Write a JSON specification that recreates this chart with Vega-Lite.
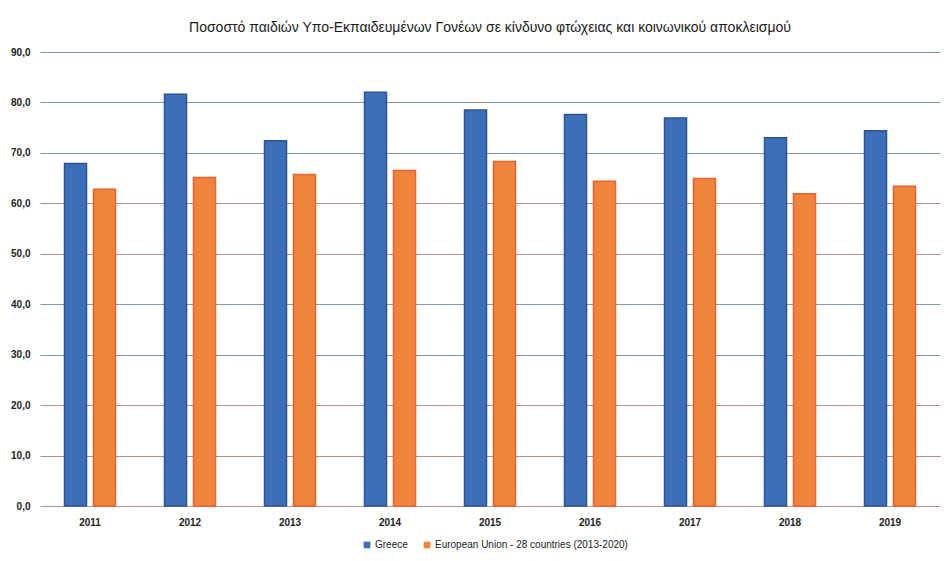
{
  "$schema": "https://vega.github.io/schema/vega-lite/v6.json",
  "width": 900,
  "height": 454,
  "autosize": "none",
  "padding": {"left": 40, "top": 52, "right": 7, "bottom": 55},
  "background": "white",
  "title": {
    "text": "Ποσοστό παιδιών Υπο-Εκπαιδευμένων Γονέων σε κίνδυνο φτώχειας και κοινωνικού αποκλεισμού",
    "font": "Liberation Sans",
    "fontSize": 14,
    "fontWeight": "normal",
    "color": "#1a1a1a",
    "offset": 12,
    "anchor": "middle"
  },
  "data": {
    "values": [
      {"year": "2011", "series": "Greece", "value": 67.9},
      {"year": "2011", "series": "European Union - 28 countries (2013-2020)", "value": 62.8},
      {"year": "2012", "series": "Greece", "value": 81.6},
      {"year": "2012", "series": "European Union - 28 countries (2013-2020)", "value": 65.1},
      {"year": "2013", "series": "Greece", "value": 72.4},
      {"year": "2013", "series": "European Union - 28 countries (2013-2020)", "value": 65.7},
      {"year": "2014", "series": "Greece", "value": 82.0},
      {"year": "2014", "series": "European Union - 28 countries (2013-2020)", "value": 66.5},
      {"year": "2015", "series": "Greece", "value": 78.5},
      {"year": "2015", "series": "European Union - 28 countries (2013-2020)", "value": 68.3},
      {"year": "2016", "series": "Greece", "value": 77.6},
      {"year": "2016", "series": "European Union - 28 countries (2013-2020)", "value": 64.4},
      {"year": "2017", "series": "Greece", "value": 76.9},
      {"year": "2017", "series": "European Union - 28 countries (2013-2020)", "value": 64.9},
      {"year": "2018", "series": "Greece", "value": 73.0},
      {"year": "2018", "series": "European Union - 28 countries (2013-2020)", "value": 61.9},
      {"year": "2019", "series": "Greece", "value": 74.4},
      {"year": "2019", "series": "European Union - 28 countries (2013-2020)", "value": 63.4}
    ]
  },
  "mark": {"type": "bar", "strokeWidth": 1.5},
  "encoding": {
    "x": {
      "field": "year",
      "type": "nominal",
      "scale": {"paddingInner": 0.49, "paddingOuter": 0.245},
      "axis": {
        "title": null,
        "labelAngle": 0,
        "domain": false,
        "ticks": false,
        "labelFont": "Liberation Sans",
        "labelFontSize": 10,
        "labelFontWeight": "bold",
        "labelColor": "#222",
        "labelPadding": 11
      }
    },
    "xOffset": {
      "field": "series",
      "type": "nominal",
      "sort": ["Greece", "European Union - 28 countries (2013-2020)"],
      "scale": {"paddingInner": 0.24, "paddingOuter": 0}
    },
    "y": {
      "field": "value",
      "type": "quantitative",
      "scale": {"domain": [0, 90]},
      "axis": {
        "title": null,
        "values": [0, 10, 20, 30, 40, 50, 60, 70, 80, 90],
        "labelExpr": "replace(format(datum.value, '.1f'), '.', ',')",
        "domain": false,
        "ticks": false,
        "labelFont": "Liberation Sans",
        "labelFontSize": 10,
        "labelFontWeight": "bold",
        "labelColor": "#222",
        "labelPadding": 10,
        "gridColor": {
          "condition": {"test": "indexof([0,10,20,50,60], datum.value) >= 0", "value": "#b09088"},
          "value": "#7f9aa4"
        },
        "gridWidth": 1
      }
    },
    "color": {
      "field": "series",
      "type": "nominal",
      "sort": ["Greece", "European Union - 28 countries (2013-2020)"],
      "scale": {
        "domain": ["Greece", "European Union - 28 countries (2013-2020)"],
        "range": ["#3d6fb8", "#f0843c"]
      },
      "legend": {
        "title": null,
        "orient": "none",
        "legendX": 322,
        "legendY": 488,
        "direction": "horizontal",
        "symbolType": "square",
        "symbolSize": 45,
        "symbolStrokeWidth": 0,
        "labelFont": "Liberation Sans",
        "labelFontSize": 10,
        "labelColor": "#222",
        "labelLimit": 0,
        "labelOffset": 3,
        "columnPadding": 14
      }
    },
    "stroke": {
      "field": "series",
      "type": "nominal",
      "scale": {
        "domain": ["Greece", "European Union - 28 countries (2013-2020)"],
        "range": ["#2a5595", "#e8622e"]
      },
      "legend": null
    }
  },
  "config": {
    "view": {"stroke": null}
  }
}
